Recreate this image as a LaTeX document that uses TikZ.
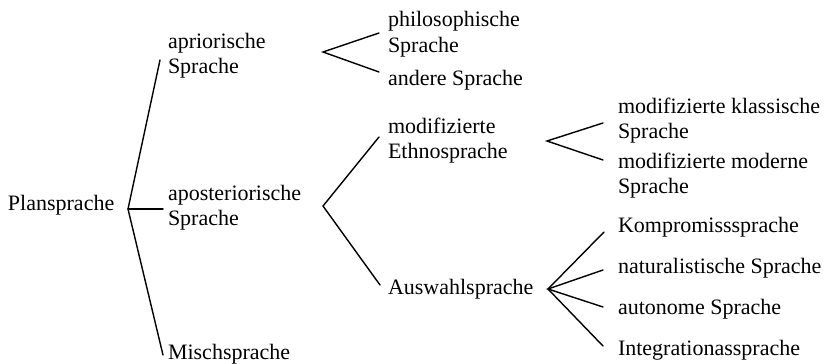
\documentclass[tikz,border=0pt]{standalone}
\usepackage{fontspec}
\setmainfont{Liberation Serif}
\begin{document}
\begin{tikzpicture}[x=1pt,y=-1pt,
  lbl/.style={anchor=base west,inner sep=0pt,outer sep=0pt,
    font=\fontsize{22}{25}\selectfont},
  branch/.style={line width=1.4pt,line cap=round}]
\useasboundingbox (0,0) rectangle (828,364);

% labels, level by level
\node[lbl] (plan)   at (8,210)   {Plansprache};

\node[lbl] (apri)   at (168,48)  {\begin{tabular}[t]{@{}l@{}}apriorische\\Sprache\end{tabular}};
\node[lbl] (apost)  at (168,200) {\begin{tabular}[t]{@{}l@{}}aposteriorische\\Sprache\end{tabular}};
\node[lbl] (misch)  at (168,359) {Mischsprache};

\node[lbl] (philo)  at (388,27)  {\begin{tabular}[t]{@{}l@{}}philosophische\\Sprache\end{tabular}};
\node[lbl] (andere) at (388,85)  {andere Sprache};
\node[lbl] (ethno)  at (388,133) {\begin{tabular}[t]{@{}l@{}}modifizierte\\Ethnosprache\end{tabular}};
\node[lbl] (ausw)   at (388,294) {Auswahlsprache};

\node[lbl] (klass)  at (618,113) {\begin{tabular}[t]{@{}l@{}}modifizierte klassische\\Sprache\end{tabular}};
\node[lbl] (modern) at (618,168) {\begin{tabular}[t]{@{}l@{}}modifizierte moderne\\Sprache\end{tabular}};
\node[lbl] (kompr)  at (618,232) {Kompromisssprache};
\node[lbl] (natur)  at (618,273) {naturalistische Sprache};
\node[lbl] (auton)  at (618,314) {autonome Sprache};
\node[lbl] (integ)  at (618,355) {Integrationassprache};

% fork points and branch ends
\coordinate (fPlan)  at (128,209);
\coordinate (tApri)  at (160,60);
\coordinate (tApost) at (163,209);
\coordinate (tMisch) at (163,355);

\coordinate (fApri)   at (323,52);
\coordinate (tPhilo)  at (379,33);
\coordinate (tAndere) at (379,72);

\coordinate (fApost) at (323,206);
\coordinate (tEthno) at (379,137);
\coordinate (tAusw)  at (380,285);

\coordinate (fEthno)  at (547,141);
\coordinate (tKlass)  at (603,123);
\coordinate (tModern) at (603,160);

\coordinate (fAusw)  at (548,289);
\coordinate (tKompr) at (604,232);
\coordinate (tNatur) at (603,270);
\coordinate (tAuton) at (603,307);
\coordinate (tInteg) at (603,346);

% branches
\draw[branch] (tApri) -- (fPlan) -- (tMisch);
\draw[branch] (fPlan) -- (tApost);
\draw[branch] (tPhilo) -- (fApri) -- (tAndere);
\draw[branch] (tEthno) -- (fApost) -- (tAusw);
\draw[branch] (tKlass) -- (fEthno) -- (tModern);
\draw[branch] (tKompr) -- (fAusw) -- (tInteg);
\draw[branch] (tNatur) -- (fAusw) -- (tAuton);
\end{tikzpicture}
\end{document}
